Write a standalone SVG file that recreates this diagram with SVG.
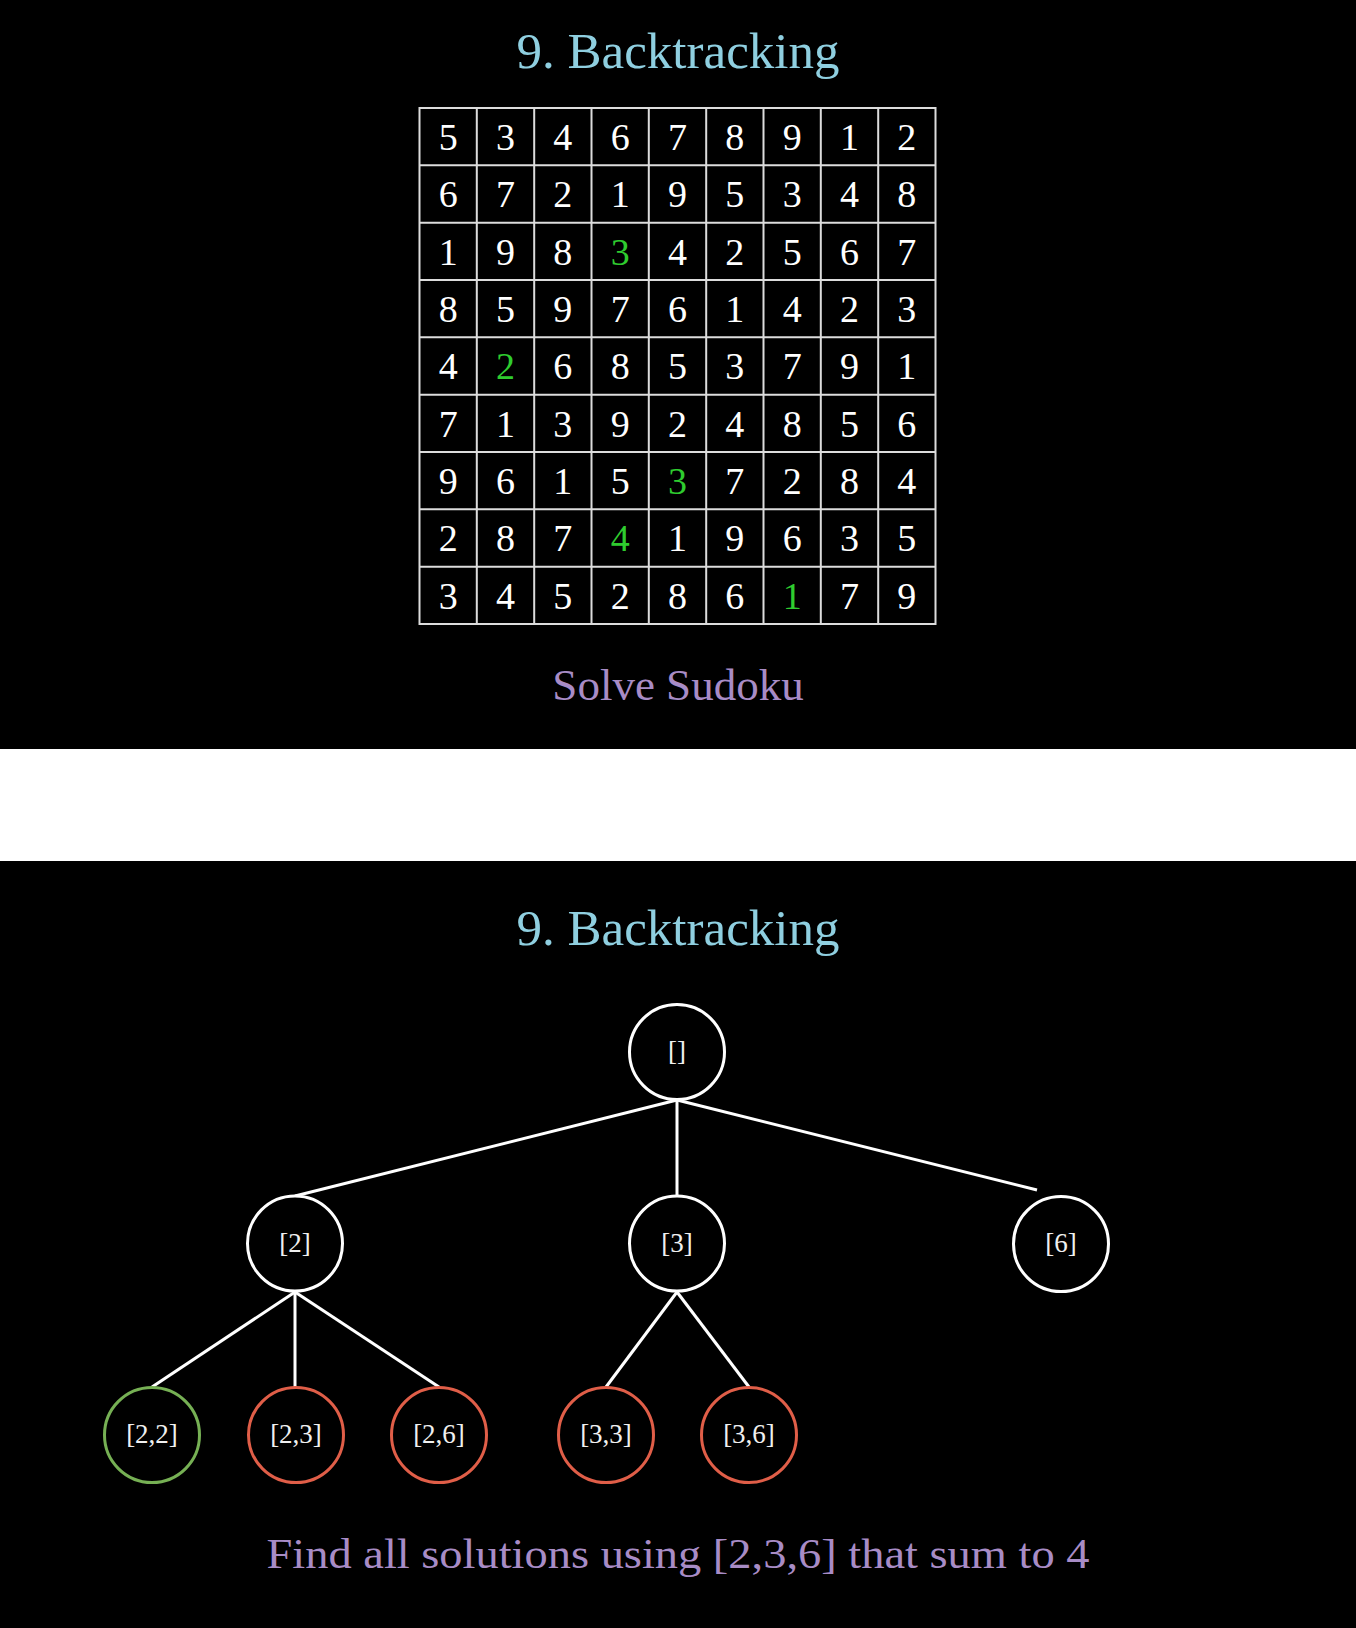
<svg xmlns="http://www.w3.org/2000/svg" width="1356" height="1628" viewBox="0 0 1356 1628">
<style>
.title{font-family:"Liberation Serif","DejaVu Serif",serif;font-size:51px;fill:#8fcfe0;text-anchor:middle}
.cap{font-family:"Liberation Serif","DejaVu Serif",serif;fill:#a88cc6;text-anchor:middle}
.d{font-family:"Liberation Serif","DejaVu Serif",serif;font-size:38px;fill:#ffffff;text-anchor:middle}
.g{fill:#2fcc2f}
.gl{stroke:#dcdcdc;stroke-width:2;fill:none}
.edge{stroke:#ffffff;stroke-width:3;fill:none}
.node{fill:#000;stroke-width:3}
.w{stroke:#ffffff}
.ok{stroke:#76b054}
.bad{stroke:#e05e48}
.lbl{font-family:"Liberation Serif","DejaVu Serif",serif;font-size:27px;fill:#f0f0f0;text-anchor:middle}
</style>
<rect x="0" y="0" width="1356" height="1628" fill="#ffffff"/>
<rect x="0" y="0" width="1356" height="749" fill="#000000"/>
<rect x="0" y="861" width="1356" height="767" fill="#000000"/>

<text class="title" x="678" y="68">9. Backtracking</text>

<g id="sudoku">
<rect class="gl" x="419.5" y="108" width="516" height="516"/>
<path class="gl" d="M476.8 108V624M534.2 108V624M591.5 108V624M648.8 108V624M706.2 108V624M763.5 108V624M820.8 108V624M878.2 108V624M419.5 165.3H935.5M419.5 222.7H935.5M419.5 280H935.5M419.5 337.3H935.5M419.5 394.7H935.5M419.5 452H935.5M419.5 509.3H935.5M419.5 566.7H935.5"/>
<g class="d">
<text x="448.2" y="150">5</text><text x="505.5" y="150">3</text><text x="562.8" y="150">4</text><text x="620.2" y="150">6</text><text x="677.5" y="150">7</text><text x="734.8" y="150">8</text><text x="792.2" y="150">9</text><text x="849.5" y="150">1</text><text x="906.8" y="150">2</text>
<text x="448.2" y="207.3">6</text><text x="505.5" y="207.3">7</text><text x="562.8" y="207.3">2</text><text x="620.2" y="207.3">1</text><text x="677.5" y="207.3">9</text><text x="734.8" y="207.3">5</text><text x="792.2" y="207.3">3</text><text x="849.5" y="207.3">4</text><text x="906.8" y="207.3">8</text>
<text x="448.2" y="264.7">1</text><text x="505.5" y="264.7">9</text><text x="562.8" y="264.7">8</text><text class="g" x="620.2" y="264.7">3</text><text x="677.5" y="264.7">4</text><text x="734.8" y="264.7">2</text><text x="792.2" y="264.7">5</text><text x="849.5" y="264.7">6</text><text x="906.8" y="264.7">7</text>
<text x="448.2" y="322">8</text><text x="505.5" y="322">5</text><text x="562.8" y="322">9</text><text x="620.2" y="322">7</text><text x="677.5" y="322">6</text><text x="734.8" y="322">1</text><text x="792.2" y="322">4</text><text x="849.5" y="322">2</text><text x="906.8" y="322">3</text>
<text x="448.2" y="379.3">4</text><text class="g" x="505.5" y="379.3">2</text><text x="562.8" y="379.3">6</text><text x="620.2" y="379.3">8</text><text x="677.5" y="379.3">5</text><text x="734.8" y="379.3">3</text><text x="792.2" y="379.3">7</text><text x="849.5" y="379.3">9</text><text x="906.8" y="379.3">1</text>
<text x="448.2" y="436.7">7</text><text x="505.5" y="436.7">1</text><text x="562.8" y="436.7">3</text><text x="620.2" y="436.7">9</text><text x="677.5" y="436.7">2</text><text x="734.8" y="436.7">4</text><text x="792.2" y="436.7">8</text><text x="849.5" y="436.7">5</text><text x="906.8" y="436.7">6</text>
<text x="448.2" y="494">9</text><text x="505.5" y="494">6</text><text x="562.8" y="494">1</text><text x="620.2" y="494">5</text><text class="g" x="677.5" y="494">3</text><text x="734.8" y="494">7</text><text x="792.2" y="494">2</text><text x="849.5" y="494">8</text><text x="906.8" y="494">4</text>
<text x="448.2" y="551.3">2</text><text x="505.5" y="551.3">8</text><text x="562.8" y="551.3">7</text><text class="g" x="620.2" y="551.3">4</text><text x="677.5" y="551.3">1</text><text x="734.8" y="551.3">9</text><text x="792.2" y="551.3">6</text><text x="849.5" y="551.3">3</text><text x="906.8" y="551.3">5</text>
<text x="448.2" y="608.7">3</text><text x="505.5" y="608.7">4</text><text x="562.8" y="608.7">5</text><text x="620.2" y="608.7">2</text><text x="677.5" y="608.7">8</text><text x="734.8" y="608.7">6</text><text class="g" x="792.2" y="608.7">1</text><text x="849.5" y="608.7">7</text><text x="906.8" y="608.7">9</text>
</g>
</g>

<text class="cap" x="678" y="700" font-size="45">Solve Sudoku</text>

<text class="title" x="678" y="945">9. Backtracking</text>

<g id="connectors">
<line class="edge" x1="677" y1="1100" x2="295" y2="1196"/>
<line class="edge" x1="677" y1="1100" x2="677" y2="1196"/>
<line class="edge" x1="677" y1="1100" x2="1037" y2="1190"/>
<line class="edge" x1="295" y1="1292" x2="152" y2="1387"/>
<line class="edge" x1="295" y1="1292" x2="295" y2="1387"/>
<line class="edge" x1="295" y1="1292" x2="439" y2="1387"/>
<line class="edge" x1="677" y1="1292" x2="606" y2="1387"/>
<line class="edge" x1="677" y1="1292" x2="749" y2="1387"/>
</g>

<g id="n-root"><circle class="node w" cx="677" cy="1052" r="47.5"/><text class="lbl" x="677" y="1060">[]</text></g>
<g id="n-2"><circle class="node w" cx="295" cy="1243.5" r="47.5"/><text class="lbl" x="295" y="1251.5">[2]</text></g>
<g id="n-3"><circle class="node w" cx="677" cy="1243.5" r="47.5"/><text class="lbl" x="677" y="1251.5">[3]</text></g>
<g id="n-6"><circle class="node w" cx="1061" cy="1244" r="47.5"/><text class="lbl" x="1061" y="1252">[6]</text></g>
<g id="n-2-2"><circle class="node ok" cx="152" cy="1435" r="47.5"/><text class="lbl" x="152" y="1443">[2,2]</text></g>
<g id="n-2-3"><circle class="node bad" cx="296" cy="1435" r="47.5"/><text class="lbl" x="296" y="1443">[2,3]</text></g>
<g id="n-2-6"><circle class="node bad" cx="439" cy="1435" r="47.5"/><text class="lbl" x="439" y="1443">[2,6]</text></g>
<g id="n-3-3"><circle class="node bad" cx="606" cy="1435" r="47.5"/><text class="lbl" x="606" y="1443">[3,3]</text></g>
<g id="n-3-6"><circle class="node bad" cx="749" cy="1435" r="47.5"/><text class="lbl" x="749" y="1443">[3,6]</text></g>

<text class="cap" x="678" y="1568" font-size="42" textLength="823" lengthAdjust="spacingAndGlyphs">Find all solutions using [2,3,6] that sum to 4</text>
</svg>
